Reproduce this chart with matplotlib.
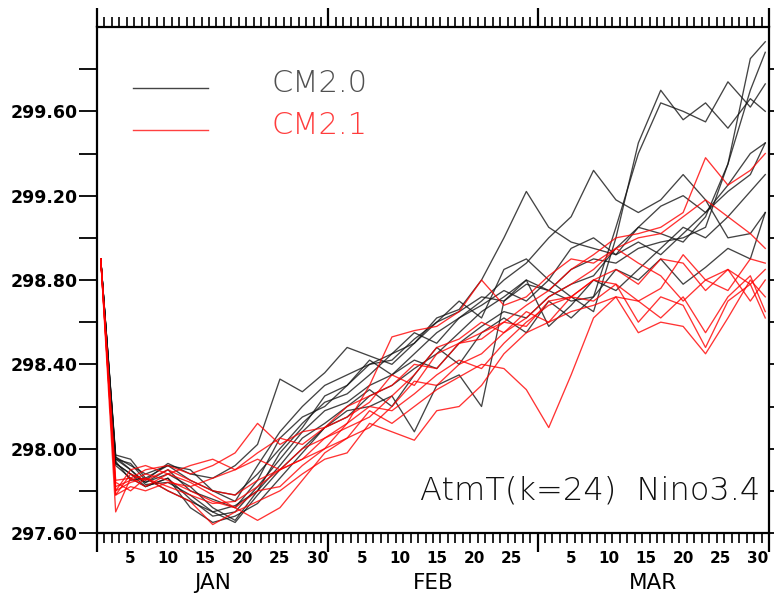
import matplotlib
matplotlib.use('Agg')
import matplotlib.pyplot as plt
import numpy as np

# sample days (day of year, Jan 1 = 1)
days = [1, 3, 5, 7, 10, 13, 16, 19, 22, 25, 28, 31, 34, 37, 40, 43,
        46, 49, 52, 55, 58, 61, 64, 67, 70, 73, 76, 79, 82, 85, 88, 90]

# CM2.0 ensemble members (black)
cm20_runs = [
    [298.90, 297.95, 297.93, 297.85, 297.93, 297.88, 297.86, 297.92, 298.02, 298.33, 298.27, 298.36, 298.48, 298.44, 298.40, 298.50,
     298.62, 298.66, 298.80, 299.00, 299.22, 299.05, 298.98, 298.95, 298.92, 298.98, 298.92, 299.02, 299.12, 299.22, 299.30, 299.45],
    [298.90, 297.93, 297.88, 297.84, 297.90, 297.80, 297.76, 297.72, 297.85, 298.05, 298.15, 298.20, 298.30, 298.42, 298.35, 298.45,
     298.55, 298.62, 298.70, 298.80, 298.88, 299.00, 299.10, 299.32, 299.18, 299.12, 299.18, 299.30, 299.18, 299.00, 299.02, 299.12],
    [298.90, 297.96, 297.90, 297.84, 297.88, 297.82, 297.72, 297.66, 297.80, 297.98, 298.10, 298.25, 298.30, 298.40, 298.45, 298.55,
     298.50, 298.62, 298.68, 298.75, 298.70, 298.80, 298.72, 298.65, 299.00, 299.45, 299.70, 299.56, 299.64, 299.52, 299.66, 299.60],
    [298.90, 297.97, 297.95, 297.86, 297.92, 297.90, 297.80, 297.75, 297.92, 298.08, 298.20, 298.30, 298.35, 298.40, 298.42, 298.52,
     298.60, 298.65, 298.72, 298.70, 298.78, 298.75, 298.70, 298.72, 299.05, 299.40, 299.64, 299.60, 299.55, 299.74, 299.62, 299.73],
    [298.90, 297.95, 297.90, 297.83, 297.84, 297.78, 297.70, 297.65, 297.78, 297.90, 298.00, 298.10, 298.15, 298.25, 298.30, 298.38,
     298.45, 298.55, 298.65, 298.72, 298.80, 298.75, 298.85, 298.90, 298.88, 298.95, 298.98, 299.00, 299.05, 299.35, 299.85, 299.93],
    [298.90, 297.92, 297.86, 297.82, 297.86, 297.76, 297.68, 297.70, 297.82, 297.95, 298.08, 298.18, 298.22, 298.30, 298.35, 298.42,
     298.38, 298.50, 298.58, 298.65, 298.62, 298.72, 298.78, 298.82, 298.95, 299.05, 299.02, 298.98, 299.10, 299.35, 299.70, 299.88],
    [298.90, 297.94, 297.85, 297.86, 297.80, 297.75, 297.70, 297.73, 297.80, 297.92, 298.05, 298.12, 298.20, 298.28, 298.20, 298.35,
     298.48, 298.40, 298.55, 298.62, 298.55, 298.70, 298.62, 298.72, 298.85, 298.80, 298.90, 298.78, 298.86, 298.95, 298.90, 299.12],
    [298.90, 297.96, 297.92, 297.88, 297.92, 297.85, 297.80, 297.78, 297.88, 298.00, 298.12, 298.22, 298.26, 298.35, 298.45, 298.50,
     298.60, 298.70, 298.62, 298.85, 298.90, 298.80, 298.95, 299.00, 298.92, 299.05, 299.15, 299.20, 299.12, 299.25, 299.40, 299.45],
    [298.90, 297.93, 297.88, 297.82, 297.86, 297.72, 297.65, 297.68, 297.74, 297.86, 297.98, 298.10, 298.18, 298.20, 298.25, 298.08,
     298.30, 298.35, 298.20, 298.70, 298.80, 298.58, 298.68, 298.80, 298.75, 298.85, 298.95, 299.05, 299.00, 299.10, 299.22, 299.30],
]

# CM2.1 ensemble members (red)
cm21_runs = [
    [298.90, 297.82, 297.85, 297.88, 297.85, 297.80, 297.75, 297.72, 297.80, 297.82, 297.92, 298.00, 298.05, 298.18, 298.12, 298.20,
     298.28, 298.34, 298.40, 298.38, 298.28, 298.10, 298.35, 298.62, 298.72, 298.70, 298.62, 298.72, 298.55, 298.72, 298.82, 298.65],
    [298.90, 297.80, 297.90, 297.92, 297.88, 297.92, 297.95, 297.90, 297.98, 298.05, 298.02, 298.10, 298.15, 298.22, 298.35, 298.30,
     298.45, 298.50, 298.52, 298.60, 298.68, 298.75, 298.85, 298.92, 299.00, 299.02, 299.05, 299.12, 299.38, 299.25, 299.32, 299.40],
    [298.90, 297.78, 297.88, 297.85, 297.90, 297.85, 297.80, 297.78, 297.85, 297.90, 297.95, 298.00, 298.12, 298.30, 298.53, 298.56,
     298.58, 298.65, 298.80, 298.68, 298.72, 298.82, 298.90, 298.88, 298.95, 299.00, 299.02, 299.10, 299.18, 299.10, 299.02, 298.95],
    [298.90, 297.85, 297.86, 297.82, 297.88, 297.84, 297.78, 297.72, 297.66, 297.72, 297.85, 297.98, 298.05, 298.10, 298.20, 298.32,
     298.30, 298.40, 298.45, 298.55, 298.65, 298.60, 298.72, 298.80, 298.85, 298.78, 298.90, 298.88, 298.75, 298.85, 298.78, 298.85],
    [298.90, 297.80, 297.84, 297.86, 297.80, 297.75, 297.64, 297.70, 297.75, 297.80, 297.88, 297.95, 297.98, 298.12, 298.08, 298.04,
     298.18, 298.20, 298.30, 298.45, 298.55, 298.60, 298.65, 298.68, 298.72, 298.55, 298.60, 298.58, 298.45, 298.62, 298.80, 298.72],
    [298.90, 297.70, 297.86, 297.90, 297.92, 297.88, 297.92, 297.98, 298.12, 298.02, 298.08, 298.10, 298.20, 298.25, 298.30, 298.40,
     298.38, 298.50, 298.55, 298.60, 298.58, 298.70, 298.72, 298.80, 298.78, 298.70, 298.76, 298.92, 298.80, 298.85, 298.70, 298.80],
    [298.90, 297.78, 297.82, 297.80, 297.84, 297.82, 297.86, 297.90, 297.95, 297.90, 297.95, 298.05, 298.12, 298.20, 298.18, 298.26,
     298.35, 298.42, 298.38, 298.50, 298.60, 298.68, 298.72, 298.70, 298.78, 298.60, 298.72, 298.68, 298.48, 298.70, 298.78, 298.62],
    [298.90, 297.84, 297.80, 297.86, 297.82, 297.78, 297.74, 297.75, 297.82, 297.90, 298.00, 298.05, 298.10, 298.15, 298.25, 298.35,
     298.48, 298.52, 298.60, 298.55, 298.62, 298.72, 298.78, 298.85, 298.95, 298.88, 298.82, 298.70, 298.80, 298.75, 298.90, 298.88],
]

series_labels = ['CM2.0', 'CM2.1']
month_names = ['JAN', 'FEB', 'MAR']
month_lengths = [31, 28, 31]
day_ticks = [5, 10, 15, 20, 25, 30]
y_major = [297.6, 298.0, 298.4, 298.8, 299.2, 299.6]
title_text = 'AtmT(k=24)  Nino3.4'

W, H = 774, 594
fig = plt.figure(figsize=(W / 100, H / 100), dpi=100)
ax = fig.add_axes([97 / W, 61 / H, 672 / W, 506 / H])

xd = np.array(days) - 0.5
for run in cm20_runs:
    ax.plot(xd, run, color='#151515', lw=0.95, alpha=0.8)
for run in cm21_runs:
    ax.plot(xd, run, color='#ff0000', lw=0.95, alpha=0.8)

ax.set_xlim(0, 90)
ax.set_ylim(297.6, 300.0)

for s in ax.spines.values():
    s.set_linewidth(1.6)

# y axis
ax.set_yticks(y_major)
ax.set_yticklabels([f'{v:.2f}' for v in y_major], fontweight='bold', fontsize=12.5)
ax.set_yticks(np.arange(297.6, 300.0, 0.2), minor=True)
ax.tick_params(axis='y', which='both', direction='out', length=13, width=1.3,
               left=True, right=True, pad=1)

# x axis ticks: month boundaries major, days minor
starts = np.cumsum([0] + month_lengths)
ax.set_xticks(starts)
ax.set_xticks(np.arange(0, 91), minor=True)
ax.tick_params(axis='x', which='major', direction='out', length=14, width=1.6,
               top=True, bottom=True, labelbottom=False)
ax.tick_params(axis='x', which='minor', direction='out', length=7, width=1.2,
               top=True, bottom=True)

pos, labs = [], []
for st, ml in zip(starts[:-1], month_lengths):
    for d in day_ticks:
        if d <= ml - 1:
            pos.append(st + d - 0.5)
            labs.append(str(d))
sec = ax.secondary_xaxis('bottom')
sec.set_xticks(pos, labs)
sec.tick_params(length=0, pad=13, labelsize=11)
for t in sec.get_xticklabels():
    t.set_fontweight('bold')
sec.spines['bottom'].set_visible(False)

sec2 = ax.secondary_xaxis('bottom')
sec2.set_xticks([st + ml / 2 for st, ml in zip(starts[:-1], month_lengths)], month_names)
sec2.tick_params(length=0, pad=29, labelsize=15.5)
sec2.spines['bottom'].set_visible(False)

# legend (manual)
lx0, lx1 = (133 - 97) / 672, (208 - 97) / 672
ax.plot([lx0, lx1], [(533 - 88) / 506] * 2, transform=ax.transAxes, color='#444444', lw=1.0)
ax.plot([lx0, lx1], [(533 - 130) / 506] * 2, transform=ax.transAxes, color='#ff4040', lw=1.0)
ax.text((272 - 97) / 672, (533 - 83) / 506, series_labels[0], transform=ax.transAxes,
        fontsize=22, fontweight='light', color='#505050', va='center', ha='left')
ax.text((272 - 97) / 672, (533 - 125) / 506, series_labels[1], transform=ax.transAxes,
        fontsize=22, fontweight='light', color='#ff3c3c', va='center', ha='left')

ax.text((760 - 97) / 672, (533 - 490) / 506, title_text, transform=ax.transAxes,
        fontsize=23, fontweight='light', color='#111111', va='center', ha='right')

fig.savefig('out.png', dpi=100)
